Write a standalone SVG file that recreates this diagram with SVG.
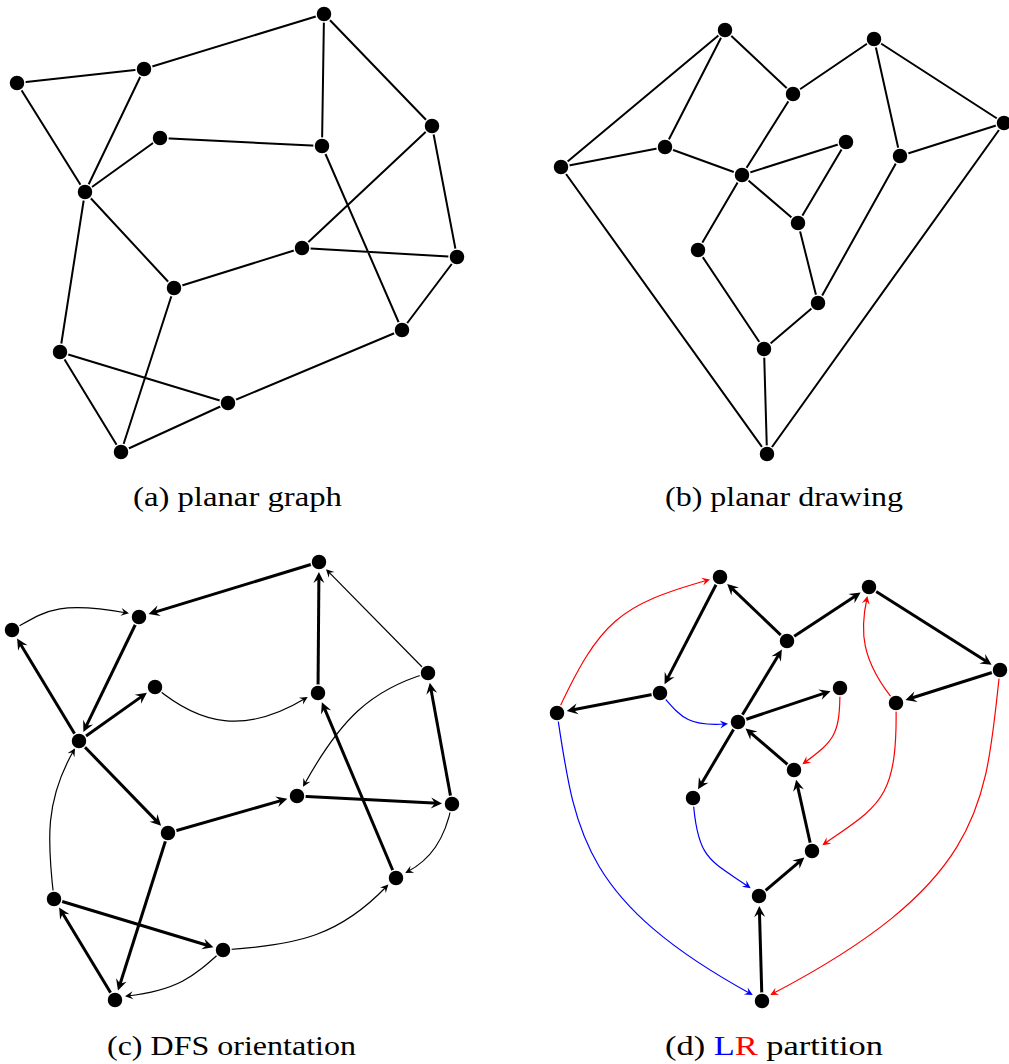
<svg xmlns="http://www.w3.org/2000/svg" width="1009" height="1064" viewBox="0 0 1009 1064">
<style>
.n{fill:#000;stroke:#fff;stroke-width:1.5}
.e{stroke:#000;stroke-width:2;fill:none}
.t{stroke:#000;stroke-width:3;fill:none;marker-end:url(#ak)}
.s{stroke:#000;stroke-width:1.2;fill:none;marker-end:url(#as)}
.r{stroke:#f00;stroke-width:1.2;fill:none;marker-end:url(#ar)}
.b{stroke:#00f;stroke-width:1.2;fill:none;marker-end:url(#ab)}
.cap{font-size:28px;fill:#000}
</style>
<defs>
<marker id="ak" markerUnits="userSpaceOnUse" markerWidth="14" markerHeight="12" viewBox="-12 -6 14 12" refX="-4" refY="0" orient="auto"><path d="M0,0 L-11,-5.5 L-7,0 L-11,5.5 Z" fill="#000"/></marker>
<marker id="as" markerUnits="userSpaceOnUse" markerWidth="10" markerHeight="10" viewBox="-9 -5 10 10" refX="-2" refY="0" orient="auto"><path d="M0,0 L-8,-4 L-5,0 L-8,4 Z" fill="#000"/></marker>
<marker id="ar" markerUnits="userSpaceOnUse" markerWidth="10" markerHeight="10" viewBox="-9 -5 10 10" refX="-2" refY="0" orient="auto"><path d="M0,0 L-8,-4 L-5,0 L-8,4 Z" fill="#f00"/></marker>
<marker id="ab" markerUnits="userSpaceOnUse" markerWidth="10" markerHeight="10" viewBox="-9 -5 10 10" refX="-2" refY="0" orient="auto"><path d="M0,0 L-8,-4 L-5,0 L-8,4 Z" fill="#00f"/></marker>
</defs>
<rect width="1009" height="1064" fill="#fff"/>

<g id="edges">
<!-- (a) -->
<path class="e" d="M17,83 L144,69 M144,69 L324,14 M17,83 L85,192 M144,69 L85,192 M324,14 L322,146 M324,14 L432,126 M160,138 L322,146 M160,138 L85,192 M85,192 L174,288 M85,192 L60,352 M432,126 L302,248 M302,248 L457,257 M432,126 L457,257 M302,248 L174,288 M322,146 L402,330 M457,257 L402,330 M174,288 L121,452 M60,352 L121,452 M60,352 L228,403 M228,403 L121,452 M228,403 L402,330"/>
<!-- (b) -->
<path class="e" d="M561,167 L725,30 M561,167 L665,147 M665,147 L725,30 M725,30 L793,94 M793,94 L874,39 M793,94 L742,175 M665,147 L742,175 M742,175 L846,142 M846,142 L798,223 M742,175 L798,223 M742,175 L698,250 M698,250 L764,349 M798,223 L818,303 M818,303 L764,349 M764,349 L767,454 M561,167 L767,454 M767,454 L1004,123 M874,39 L1004,123 M874,39 L900,156 M900,156 L1004,123 M900,156 L818,303"/>
<!-- (c) thick -->
<path class="t" d="M319,562 L152.4,612.9"/>
<path class="t" d="M139,617 L85.1,728.4"/>
<path class="t" d="M79,741 L19.2,642"/>
<path class="t" d="M79,741 L143.6,695.1"/>
<path class="t" d="M318,693 L318.9,576"/>
<path class="t" d="M79,741 L158.3,822.9"/>
<path class="t" d="M168,833 L283.5,799.9"/>
<path class="t" d="M297,796 L438,803.3"/>
<path class="t" d="M452,804 L430.5,686.8"/>
<path class="t" d="M396,878 L323.4,705.9"/>
<path class="t" d="M168,833 L119.2,986.7"/>
<path class="t" d="M115,1000 L61.2,911"/>
<path class="t" d="M54,899 L209.6,946"/>
<!-- (c) thin -->
<path class="s" d="M428,673 L327.4,570.6"/>
<path class="s" d="M12,630 C45,612 55,600 127,613"/>
<path class="s" d="M155,687 C200,725 245,735 306,698"/>
<path class="s" d="M428,673 C370,690 340,720 304,785"/>
<path class="s" d="M452,804 C445,840 430,860 407,872"/>
<path class="s" d="M223,950 C300,945 340,935 387,886"/>
<path class="s" d="M223,950 C195,975 180,990 127,996"/>
<path class="s" d="M54,899 C47,840 45,800 74,750"/>
<!-- (d) thick -->
<path class="t" d="M720,577 L666.4,680.6"/>
<path class="t" d="M787,641 L730.1,586.7"/>
<path class="t" d="M787,641 L857.3,594.7"/>
<path class="t" d="M869,587 L988.2,662.5"/>
<path class="t" d="M1000,670 L909.3,698.8"/>
<path class="t" d="M660,693 L570.7,710.3"/>
<path class="t" d="M738,722 L779.8,653"/>
<path class="t" d="M738,722 L826.7,692.4"/>
<path class="t" d="M794,770 L748.6,731.1"/>
<path class="t" d="M738,722 L700.1,785.9"/>
<path class="t" d="M812,851 L797,783.7"/>
<path class="t" d="M759,896 L801.3,860.1"/>
<path class="t" d="M762,1001 L759.4,910"/>
<!-- (d) colored -->
<path class="r" d="M557,713 C600,620 620,605 708,580"/>
<path class="b" d="M660,693 C680,715 685,727 726,724"/>
<path class="r" d="M840,688 C840,735 835,740 804,763"/>
<path class="r" d="M896,703 C860,660 860,630 867,598"/>
<path class="r" d="M896,703 C898,800 880,805 824,844"/>
<path class="b" d="M693,798 C697,860 710,860 749,887"/>
<path class="b" d="M557,713 C575,830 580,900 751,994"/>
<path class="r" d="M1000,670 C985,800 990,880 772,994"/>
</g>

<g id="a1"><circle class="n" cx="17" cy="83" r="8"/></g>
<g id="a2"><circle class="n" cx="144" cy="69" r="8"/></g>
<g id="a3"><circle class="n" cx="324" cy="14" r="8"/></g>
<g id="a4"><circle class="n" cx="160" cy="138" r="8"/></g>
<g id="a5"><circle class="n" cx="322" cy="146" r="8"/></g>
<g id="a6"><circle class="n" cx="432" cy="126" r="8"/></g>
<g id="a7"><circle class="n" cx="85" cy="192" r="8"/></g>
<g id="a8"><circle class="n" cx="302" cy="248" r="8"/></g>
<g id="a9"><circle class="n" cx="457" cy="257" r="8"/></g>
<g id="a10"><circle class="n" cx="174" cy="288" r="8"/></g>
<g id="a11"><circle class="n" cx="402" cy="330" r="8"/></g>
<g id="a12"><circle class="n" cx="60" cy="352" r="8"/></g>
<g id="a13"><circle class="n" cx="228" cy="403" r="8"/></g>
<g id="a14"><circle class="n" cx="121" cy="452" r="8"/></g>

<g id="b1"><circle class="n" cx="725" cy="30" r="8"/></g>
<g id="b2"><circle class="n" cx="874" cy="39" r="8"/></g>
<g id="b3"><circle class="n" cx="793" cy="94" r="8"/></g>
<g id="b4"><circle class="n" cx="1004" cy="123" r="8"/></g>
<g id="b5"><circle class="n" cx="665" cy="147" r="8"/></g>
<g id="b6"><circle class="n" cx="846" cy="142" r="8"/></g>
<g id="b7"><circle class="n" cx="561" cy="167" r="8"/></g>
<g id="b8"><circle class="n" cx="900" cy="156" r="8"/></g>
<g id="b9"><circle class="n" cx="742" cy="175" r="8"/></g>
<g id="b10"><circle class="n" cx="798" cy="223" r="8"/></g>
<g id="b11"><circle class="n" cx="698" cy="250" r="8"/></g>
<g id="b12"><circle class="n" cx="818" cy="303" r="8"/></g>
<g id="b13"><circle class="n" cx="764" cy="349" r="8"/></g>
<g id="b14"><circle class="n" cx="767" cy="454" r="8"/></g>

<g id="c1"><circle class="n" cx="12" cy="630" r="8"/></g>
<g id="c2"><circle class="n" cx="139" cy="617" r="8"/></g>
<g id="c3"><circle class="n" cx="319" cy="562" r="8"/></g>
<g id="c4"><circle class="n" cx="155" cy="687" r="8"/></g>
<g id="c5"><circle class="n" cx="318" cy="693" r="8"/></g>
<g id="c6"><circle class="n" cx="428" cy="673" r="8"/></g>
<g id="c7"><circle class="n" cx="79" cy="741" r="8"/></g>
<g id="c8"><circle class="n" cx="297" cy="796" r="8"/></g>
<g id="c9"><circle class="n" cx="452" cy="804" r="8"/></g>
<g id="c10"><circle class="n" cx="168" cy="833" r="8"/></g>
<g id="c11"><circle class="n" cx="396" cy="878" r="8"/></g>
<g id="c12"><circle class="n" cx="54" cy="899" r="8"/></g>
<g id="c13"><circle class="n" cx="223" cy="950" r="8"/></g>
<g id="c14"><circle class="n" cx="115" cy="1000" r="8"/></g>

<g id="d1"><circle class="n" cx="720" cy="577" r="8"/></g>
<g id="d2"><circle class="n" cx="869" cy="587" r="8"/></g>
<g id="d3"><circle class="n" cx="787" cy="641" r="8"/></g>
<g id="d4"><circle class="n" cx="1000" cy="670" r="8"/></g>
<g id="d5"><circle class="n" cx="660" cy="693" r="8"/></g>
<g id="d6"><circle class="n" cx="840" cy="688" r="8"/></g>
<g id="d7"><circle class="n" cx="557" cy="713" r="8"/></g>
<g id="d8"><circle class="n" cx="896" cy="703" r="8"/></g>
<g id="d9"><circle class="n" cx="738" cy="722" r="8"/></g>
<g id="d10"><circle class="n" cx="794" cy="770" r="8"/></g>
<g id="d11"><circle class="n" cx="693" cy="798" r="8"/></g>
<g id="d12"><circle class="n" cx="812" cy="851" r="8"/></g>
<g id="d13"><circle class="n" cx="759" cy="896" r="8"/></g>
<g id="d14"><circle class="n" cx="762" cy="1001" r="8"/></g>

<g id="captions" font-family="'Liberation Serif', 'DejaVu Serif', serif">
<text class="cap" x="133" y="506" textLength="209" lengthAdjust="spacingAndGlyphs">(a) planar graph</text>
<text class="cap" x="665" y="506" textLength="238" lengthAdjust="spacingAndGlyphs">(b) planar drawing</text>
<text class="cap" x="107" y="1055" textLength="249" lengthAdjust="spacingAndGlyphs">(c) DFS orientation</text>
<text class="cap" x="665" y="1055" textLength="218" lengthAdjust="spacingAndGlyphs">(d) <tspan fill="#00f">L</tspan><tspan fill="#f00">R</tspan> partition</text>
</g>
</svg>
